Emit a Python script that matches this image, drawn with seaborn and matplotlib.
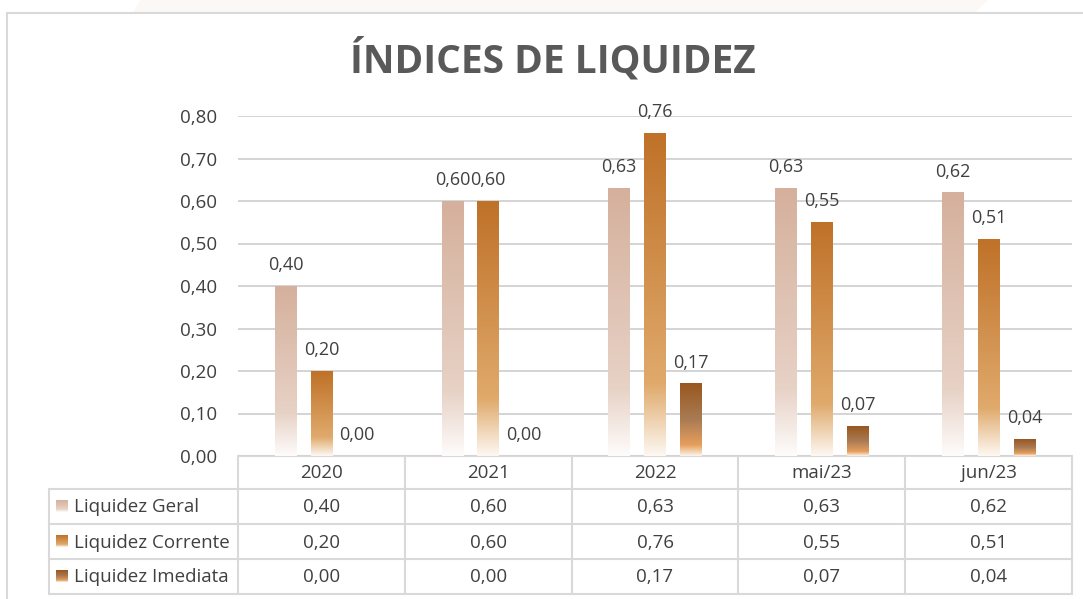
import numpy as np
import pandas as pd
import seaborn as sns
import matplotlib.pyplot as plt
from matplotlib.colors import LinearSegmentedColormap
from matplotlib.patches import Rectangle, Polygon

# dados
categorias = ["2020", "2021", "2022", "mai/23", "jun/23"]
series = ["Liquidez Geral", "Liquidez Corrente", "Liquidez Imediata"]
geral = [0.40, 0.60, 0.63, 0.63, 0.62]
corrente = [0.20, 0.60, 0.76, 0.55, 0.51]
imediata = [0.00, 0.00, 0.17, 0.07, 0.04]
yticks = [0.0, 0.1, 0.2, 0.3, 0.4, 0.5, 0.6, 0.7, 0.8]

df = pd.DataFrame({
    "periodo": categorias * 3,
    "serie": [s for s in series for _ in categorias],
    "valor": geral + corrente + imediata,
})

# gradientes (de baixo para cima)
gradientes = {
    "Liquidez Geral": [(0.0, "#fefcfb"), (0.25, "#e7d2c6"), (1.0, "#d5b09c")],
    "Liquidez Corrente": [(0.0, "#fdf8f2"), (0.22, "#e0aa6c"), (1.0, "#bf7128")],
    "Liquidez Imediata": [(0.0, "#fdf4ec"), (0.15, "#e69f5c"), (0.5, "#a97b54"), (1.0, "#99571f")],
}
cmaps = {k: LinearSegmentedColormap.from_list(k, v) for k, v in gradientes.items()}
grad = np.linspace(0, 1, 256).reshape(-1, 1)

fmt = lambda v: f"{v:.2f}".replace(".", ",")

W, H = 1083, 599
sns.set_theme(style="white")
plt.rcParams["font.family"] = ["Open Sans", "DejaVu Sans"]
txt = "#404040"
fs = 13.5

fig = plt.figure(figsize=(W / 100, H / 100), dpi=100)
fig.patch.set_facecolor("white")

# camada de fundo (moldura + tabela)
bg = fig.add_axes([0, 0, 1, 1])
bg.set_xlim(0, W)
bg.set_ylim(H, 0)
bg.axis("off")
bg.add_patch(Polygon([(140, 0), (988, 0), (975, 13), (133, 13)], closed=True,
                     facecolor="#fbf8f5", edgecolor="none"))
bg.add_patch(Rectangle((7, 13), 1100, 620, facecolor="white", edgecolor="#d9d9d9", lw=1.5))

x0, x1 = 238, 1072
y_top, y_zero = 116, 456
ax = fig.add_axes([x0 / W, 1 - y_zero / H, (x1 - x0) / W, (y_zero - y_top) / H])
ax.patch.set_alpha(0)

sns.barplot(data=df, x="periodo", y="valor", hue="serie", order=categorias,
            hue_order=series, width=0.645, gap=0.4, legend=False, ax=ax,
            palette=["#d5b09c", "#bf7128", "#99571f"], errorbar=None)

for serie, cont in zip(series, ax.containers):
    for bar in cont:
        h = bar.get_height()
        x = bar.get_x()
        w = bar.get_width()
        bar.set_facecolor("none")
        bar.set_edgecolor("none")
        if h > 0:
            ax.imshow(grad, cmap=cmaps[serie], origin="lower", aspect="auto",
                      extent=[x, x + w, 0, h], zorder=2)
    ax.bar_label(cont, labels=[fmt(v) for v in cont.datavalues], padding=8.5,
                 fontsize=13, color=txt)

ax.set_xlim(-0.5, len(categorias) - 0.5)
ax.set_ylim(0, 0.8)
ax.set_yticks(yticks)
ax.set_yticklabels([fmt(v) for v in yticks], fontsize=fs, color=txt)
ax.tick_params(axis="y", length=0, pad=15)
ax.set_xticks([])
ax.set_xlabel("")
ax.set_ylabel("")
ax.yaxis.grid(True, color="#d4d4d4", lw=1.4)
ax.set_axisbelow(True)
sns.despine(ax=ax, left=True, bottom=True)

fig.text(553 / W, 1 - 60 / H, "ÍNDICES DE LIQUIDEZ", ha="center", va="center",
         fontsize=28, fontweight="bold", color="#595959")

# tabela de dados
lc = "#d9d9d9"
col_w = (x1 - x0) / len(categorias)
cols = [x0 + i * col_w for i in range(len(categorias) + 1)]
rows = [456, 489, 524, 559, 594]
lx = 49
bg.plot([x0, x1], [rows[0], rows[0]], color=lc, lw=1.5, zorder=5)
for r in rows[1:]:
    bg.plot([lx, x1], [r, r], color=lc, lw=1.5, zorder=5)
for c in cols:
    bg.plot([c, c], [rows[0], rows[-1]], color=lc, lw=1.5, zorder=5)
bg.plot([lx, lx], [rows[1], rows[-1]], color=lc, lw=1.5, zorder=5)

for i, cat in enumerate(categorias):
    bg.text((cols[i] + cols[i + 1]) / 2, (rows[0] + rows[1]) / 2 + 1, cat,
            ha="center", va="center", fontsize=fs, color=txt, zorder=6)

for j, (serie, vals) in enumerate(zip(series, [geral, corrente, imediata])):
    ym = (rows[j + 1] + rows[j + 2]) / 2
    bg.imshow(grad, cmap=cmaps[serie], origin="lower", aspect="auto",
              extent=[56, 68, ym + 6, ym - 6], zorder=6)
    bg.text(74, ym + 1, serie, ha="left", va="center", fontsize=fs, color=txt, zorder=6)
    for i, v in enumerate(vals):
        bg.text((cols[i] + cols[i + 1]) / 2, ym + 1, fmt(v), ha="center", va="center",
                fontsize=fs, color=txt, zorder=6)

bg.set_xlim(0, W)
bg.set_ylim(H, 0)

fig.savefig("out.png", dpi=100)
